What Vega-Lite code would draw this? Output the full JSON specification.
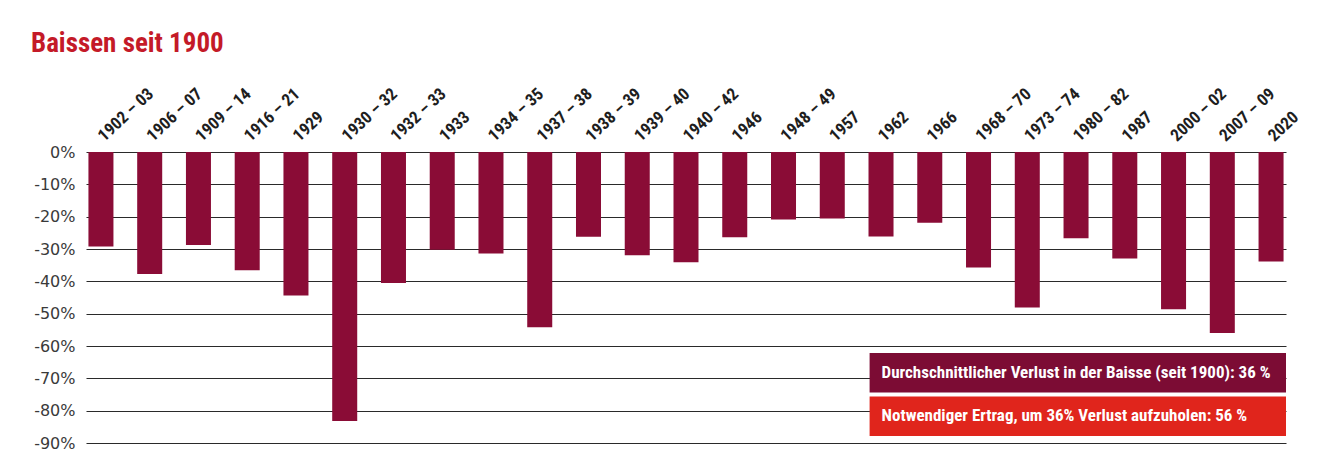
{
  "$schema": "https://vega.github.io/schema/vega-lite/v6.json",
  "width": 1200,
  "height": 291,
  "autosize": {"type": "none"},
  "padding": {"left": 86, "top": 152, "right": 33, "bottom": 20},
  "background": "white",
  "title": {
    "text": "Baissen seit 1900",
    "anchor": "start",
    "frame": "group",
    "font": "Roboto Condensed, DejaVu Sans Condensed, Liberation Sans Narrow, Roboto, sans-serif",
    "fontSize": 27,
    "fontWeight": "bold",
    "color": "#c41a28",
    "dx": -55,
    "offset": 27
  },
  "config": {"view": {"stroke": null}},
  "layer": [
    {
      "data": {
        "values": [
          {"period": "1902 – 03", "loss": -29.2},
          {"period": "1906 – 07", "loss": -37.7},
          {"period": "1909 – 14", "loss": -28.8},
          {"period": "1916 – 21", "loss": -36.6},
          {"period": "1929", "loss": -44.4},
          {"period": "1930 – 32", "loss": -83.2},
          {"period": "1932 – 33", "loss": -40.5},
          {"period": "1933", "loss": -30.2},
          {"period": "1934 – 35", "loss": -31.4},
          {"period": "1937 – 38", "loss": -54.2},
          {"period": "1938 – 39", "loss": -26.2},
          {"period": "1939 – 40", "loss": -31.9},
          {"period": "1940 – 42", "loss": -34.1},
          {"period": "1946", "loss": -26.4},
          {"period": "1948 – 49", "loss": -20.9},
          {"period": "1957", "loss": -20.6},
          {"period": "1962", "loss": -26.1},
          {"period": "1966", "loss": -21.9},
          {"period": "1968 – 70", "loss": -35.7},
          {"period": "1973 – 74", "loss": -48.1},
          {"period": "1980 – 82", "loss": -26.7},
          {"period": "1987", "loss": -32.9},
          {"period": "2000 – 02", "loss": -48.6},
          {"period": "2007 – 09", "loss": -56.0},
          {"period": "2020", "loss": -33.9}
        ]
      },
      "mark": {"type": "bar", "color": "#8a0c36"},
      "encoding": {
        "x": {
          "field": "period",
          "type": "nominal",
          "sort": null,
          "scale": {"paddingInner": 0.487, "paddingOuter": 0.05},
          "axis": {
            "orient": "top",
            "title": null,
            "domain": false,
            "ticks": false,
            "labelAngle": -43,
            "labelAlign": "left",
            "labelBaseline": "middle",
            "labelPadding": 14,
            "labelFont": "Roboto Condensed, DejaVu Sans Condensed, Liberation Sans Narrow, Roboto, sans-serif",
            "labelFontSize": 17,
            "labelFontWeight": "bold",
            "labelColor": "#1e1e1e"
          }
        },
        "y": {
          "field": "loss",
          "type": "quantitative",
          "scale": {"domain": [-90, 0], "nice": false},
          "axis": {
            "title": null,
            "values": [-90, -80, -70, -60, -50, -40, -30, -20, -10, 0],
            "tickCount": 10,
            "labelExpr": "datum.value + '%'",
            "labelOverlap": false,
            "labelBound": false,
            "domain": false,
            "ticks": false,
            "grid": true,
            "gridColor": "#2a2a2a",
            "gridWidth": 1.2,
            "gridOpacity": 1,
            "labelPadding": 11,
            "labelFont": "DejaVu Sans",
            "labelFontSize": 16,
            "labelColor": "#3a3a3a"
          }
        }
      }
    },
    {
      "data": {"values": [{"note": "Durchschnittlicher Verlust in der Baisse (seit 1900): 36 %"}]},
      "layer": [
        {
          "mark": {"type": "rect", "color": "#7c0c34"},
          "encoding": {
            "x": {"datum": 0.653, "type": "quantitative", "scale": {"domain": [0, 1]}, "axis": null},
            "x2": {"datum": 1.0},
            "y": {"datum": -62.2, "type": "quantitative"},
            "y2": {"datum": -74.4}
          }
        },
        {
          "mark": {"type": "text", "color": "white", "align": "left", "baseline": "middle", "font": "Roboto Condensed, DejaVu Sans Condensed, Liberation Sans Narrow, Roboto, sans-serif", "fontSize": 17, "fontWeight": "bold"},
          "encoding": {
            "x": {"datum": 0.663, "type": "quantitative", "scale": {"domain": [0, 1]}, "axis": null},
            "y": {"datum": -68.3, "type": "quantitative"},
            "text": {"field": "note"}
          }
        }
      ]
    },
    {
      "data": {"values": [{"note": "Notwendiger Ertrag, um 36% Verlust aufzuholen: 56 %"}]},
      "layer": [
        {
          "mark": {"type": "rect", "color": "#e0251c"},
          "encoding": {
            "x": {"datum": 0.653, "type": "quantitative", "scale": {"domain": [0, 1]}, "axis": null},
            "x2": {"datum": 1.0},
            "y": {"datum": -75.6, "type": "quantitative"},
            "y2": {"datum": -87.8}
          }
        },
        {
          "mark": {"type": "text", "color": "white", "align": "left", "baseline": "middle", "font": "Roboto Condensed, DejaVu Sans Condensed, Liberation Sans Narrow, Roboto, sans-serif", "fontSize": 17, "fontWeight": "bold"},
          "encoding": {
            "x": {"datum": 0.663, "type": "quantitative", "scale": {"domain": [0, 1]}, "axis": null},
            "y": {"datum": -81.7, "type": "quantitative"},
            "text": {"field": "note"}
          }
        }
      ]
    }
  ],
  "resolve": {"scale": {"x": "independent"}}
}
